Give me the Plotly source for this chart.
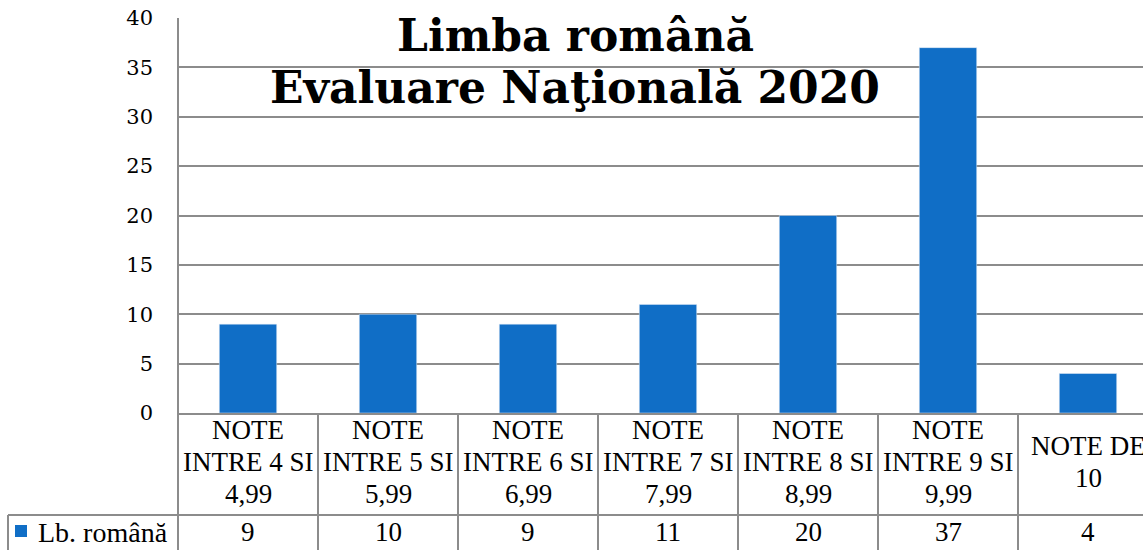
import plotly.graph_objects as go

# data
categories = ["NOTE<br>INTRE 4 SI<br>4,99", "NOTE<br>INTRE 5 SI<br>5,99", "NOTE<br>INTRE 6 SI<br>6,99",
              "NOTE<br>INTRE 7 SI<br>7,99", "NOTE<br>INTRE 8 SI<br>8,99", "NOTE<br>INTRE 9 SI<br>9,99",
              "NOTE DE<br>10"]
values = [9, 10, 9, 11, 20, 37, 4]
series_name = "Lb. română"
title_lines = ["Limba română", "Evaluare Naţională 2020"]

W, H = 1143, 550
L, T, B = 178, 18, 137
plot_w = W - L
plot_h = H - T - B
cat_px = 140.0

BLUE = "#106EC6"
GRID = "#8c8c8c"
SERIF = "Liberation Serif, Times New Roman, serif"
TXT = 27

xpos = list(range(len(values)))
fig = go.Figure(go.Bar(x=xpos, y=values, marker_color=BLUE, width=0.41, name=series_name))

x_hi = -0.5 + plot_w / cat_px


def py(px):
    # pixel row below the plot bottom -> paper y
    return -(px - (H - B)) / plot_h


def px_x(px):
    return (px - L) / plot_w


shapes = []
line = dict(color=GRID, width=2)
# y axis line extended through the table
shapes.append(dict(type="line", xref="paper", yref="paper", x0=0, x1=0, y0=1, y1=py(H + 5), line=line))
# category dividers
for k in range(len(values)):
    xp = (k + 0.5 + 0.5) / (x_hi + 0.5)
    if xp < 1:
        shapes.append(dict(type="line", xref="paper", yref="paper", x0=xp, x1=xp, y0=0, y1=py(H + 5), line=line))
# row boundary and legend cell
shapes.append(dict(type="line", xref="paper", yref="paper", x0=px_x(8), x1=1.01, y0=py(515), y1=py(515), line=line))
shapes.append(dict(type="line", xref="paper", yref="paper", x0=px_x(8), x1=px_x(8), y0=py(515), y1=py(H + 5), line=line))
# legend key
shapes.append(dict(type="rect", xref="paper", yref="paper", x0=px_x(15), x1=px_x(27), y0=py(537), y1=py(525),
                   fillcolor=BLUE, line=dict(width=0)))

annotations = []
tfont = dict(family=SERIF, size=TXT, color="black")
for i, c in enumerate(categories):
    parts = c.split("<br>")
    n = len(parts)
    for j, p in enumerate(parts):
        yc = 462 + (j - (n - 1) / 2) * 32
        annotations.append(dict(x=xpos[i], y=py(yc), xref="x", yref="paper", text=p, showarrow=False,
                                font=tfont, xanchor="center", yanchor="middle"))
    annotations.append(dict(x=xpos[i], y=py(532), xref="x", yref="paper", text=str(values[i]), showarrow=False,
                            font=tfont, xanchor="center", yanchor="middle"))
annotations.append(dict(x=px_x(36), y=py(532), xref="paper", yref="paper", text=series_name, showarrow=False,
                        font=dict(family=SERIF, size=28, color="black"), xanchor="left", yanchor="middle"))
for j, t in enumerate(title_lines):
    annotations.append(dict(x=px_x(575), y=py(35 + 52 * j), xref="paper", yref="paper", text="<b>" + t + "</b>",
                            showarrow=False, font=dict(family="DejaVu Serif", size=44, color="black"),
                            xanchor="center", yanchor="middle"))

fig.update_layout(
    width=W, height=H,
    margin=dict(l=L, r=0, t=T, b=B, pad=0),
    plot_bgcolor="white", paper_bgcolor="white",
    showlegend=False,
    shapes=shapes,
    annotations=annotations,
    xaxis=dict(range=[-0.5, x_hi], showticklabels=False, showgrid=False, zeroline=False,
               showline=True, linecolor=GRID, linewidth=2, ticks=""),
    yaxis=dict(range=[0, 40], dtick=5, showgrid=True, gridcolor=GRID, gridwidth=2, zeroline=False,
               showline=False, ticks="", ticklabelstandoff=24,
               tickfont=dict(family="DejaVu Serif", size=21, color="black")),
)

fig.write_html("out.html", config={"displayModeBar": False},
               post_script="document.body.style.margin='0px';")
